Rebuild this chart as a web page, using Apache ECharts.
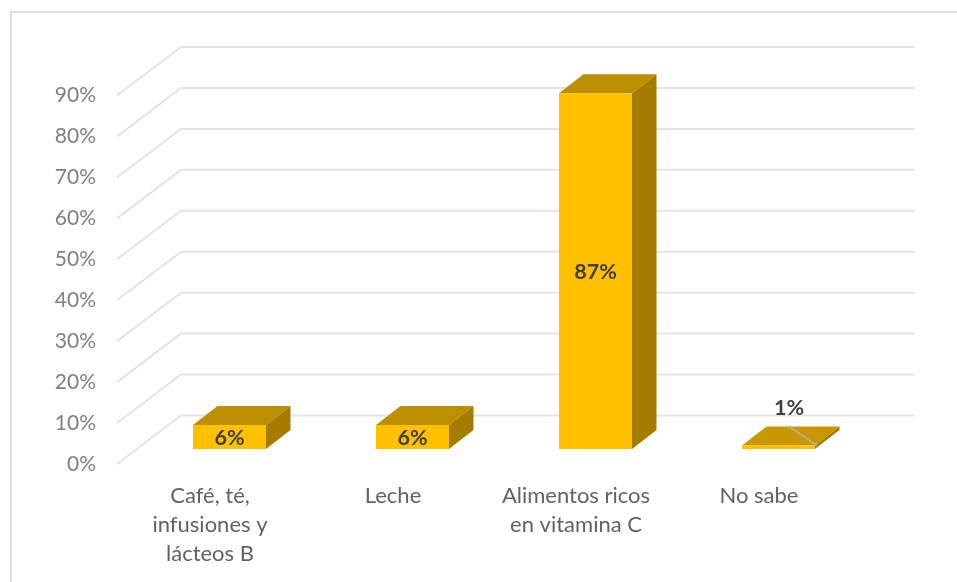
<!DOCTYPE html>
<html><head><meta charset="utf-8">
<style>html,body{margin:0;padding:0;background:#fff}#c{width:957px;height:582px;filter:blur(0.5px)}</style>
<script src="https://cdn.jsdelivr.net/npm/echarts@6/dist/echarts.min.js"></script>
</head><body><div id="c"></div>
<script>
const categories = ['Café, té,\ninfusiones y\nlácteos B', 'Leche', 'Alimentos ricos\nen vitamina C', 'No sabe'];
const values = [6, 6, 87, 1];
const ticks = [0, 10, 20, 30, 40, 50, 60, 70, 80, 90];

const FONT = 'Lato, "Open Sans", sans-serif';
const chart = echarts.init(document.getElementById('c'));

function renderGrid(params, api) {
  const v = api.value(0);
  const cs = params.coordSys;
  const y = api.coord([0, v])[1];
  const x0 = cs.x, bx = x0 + 64, by = y - 48.5, ex = cs.x + cs.width + 66;
  return {
    type: 'polyline', silent: true,
    shape: { points: [[x0, y], [bx, by], [ex, by]] },
    style: { stroke: '#e4e4e4', lineWidth: 2, fill: null }
  };
}

function renderBar(params, api) {
  const i = api.value(0), v = api.value(1);
  const top = api.coord([i, v]), base = api.coord([i, 0]);
  const w = 73, dx = 24.5, dy = -19;
  const xl = top[0] - 36.5 + 21, xr = xl + w;
  const yb = base[1] - 15, yt = top[1] - 14.5;
  const small = v < 3;
  const children = [
    { type: 'polygon', shape: { points: [[xl, yt], [xr, yt], [xr + dx, yt + dy], [xl + dx, yt + dy]] }, style: { fill: small ? '#C99700' : '#BD8F00' } },
    { type: 'polygon', shape: { points: [[xr, yt], [xr + dx, yt + dy], [xr + dx, yb + dy], [xr, yb]] }, style: { fill: '#A67C00' } },
    { type: 'rect', shape: { x: xl, y: yt, width: w, height: yb - yt }, style: { fill: '#FFC000' } }
  ];
  if (small) {
    children.push({ type: 'line', shape: { x1: xl + 47, y1: yt + dy, x2: xr + 2, y2: yt }, style: { stroke: '#BFA98A', lineWidth: 2 } });
  }
  children.push({
    type: 'text',
    style: {
      x: small ? xl + 47 : xl + w / 2,
      y: small ? yt - 37 : (yt + yb) / 2 + 1,
      text: v + '%', fill: '#404040',
      font: 'bold 21.5px ' + FONT, align: 'center', verticalAlign: 'middle'
    }
  });
  return { type: 'group', children };
}

chart.setOption({
  animation: false,
  backgroundColor: '#fff',
  grid: { left: 117, right: 108, top: 95.5, bottom: 118, containLabel: false },
  graphic: [
    { type: 'polyline', silent: true, shape: { points: [[11, 582], [11, 12], [957, 12]] }, style: { stroke: '#dedede', lineWidth: 2, fill: null } }
  ],
  xAxis: {
    type: 'category', data: categories,
    axisLine: { show: false }, axisTick: { show: false }, splitLine: { show: false },
    axisLabel: { color: '#626262', fontFamily: FONT, fontSize: 22, lineHeight: 29, margin: 17, interval: 0, padding: [0, 0, 0, 3] }
  },
  yAxis: {
    type: 'value', min: 0, max: 90, interval: 10,
    axisLine: { show: false }, axisTick: { show: false }, splitLine: { show: false },
    axisLabel: { color: '#7f7f7f', fontFamily: FONT, fontSize: 21, margin: 21, padding: [6, 0, 0, 0], formatter: '{value}%' }
  },
  series: [
    { type: 'custom', coordinateSystem: 'cartesian2d', z: 1, clip: false, silent: true,
      encode: { y: 0 }, data: ticks.map(t => [t]), renderItem: renderGrid },
    { type: 'custom', coordinateSystem: 'cartesian2d', z: 2, clip: false, silent: true,
      encode: { x: 0, y: 1 }, data: values.map((v, i) => [i, v]), renderItem: renderBar }
  ]
});
</script></body></html>
